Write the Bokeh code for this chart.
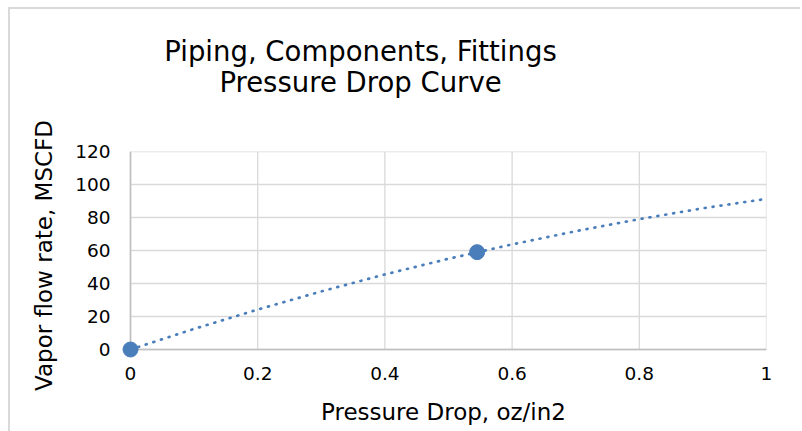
from bokeh.plotting import figure
from bokeh.models import Range1d, Label, FixedTicker
from bokeh.layouts import column
from bokeh.embed import file_html
from bokeh.resources import INLINE

# Measured points (pressure drop oz/in2 vs. vapor flow MSCFD)
pressure_drop = [0.0, 0.545]
vapor_flow = [0.0, 59.0]

# Trendline values
trend_x = [0.0, 0.1, 0.2, 0.3, 0.4, 0.5, 0.6, 0.7, 0.8, 0.9, 1.0]
trend_y = [0.0, 12.5, 24.2, 35.2, 45.5, 55.0, 63.7, 71.7, 79.0, 85.6, 91.3]

x_ticks = [0, 0.2, 0.4, 0.6, 0.8, 1.0]
y_ticks = [0, 20, 40, 60, 80, 100, 120]

title_lines = ["Piping, Components, Fittings", "Pressure Drop Curve"]
x_title = "Pressure Drop, oz/in2"
y_title = "Vapor flow rate, MSCFD"

FONT = "DejaVu Sans"
BLUE = "#4a7ebb"
GRID = "#d9d9d9"
AXIS = "#bfbfbf"

W = 790
TITLE_H = 110
PLOT_H = 312

# --- title strip -----------------------------------------------------------
head = figure(
    width=W, height=TITLE_H, title=None,
    x_range=Range1d(0, W), y_range=Range1d(0, TITLE_H),
    output_backend="svg", toolbar_location=None,
    min_border=0, x_axis_location=None, y_axis_location=None,
    background_fill_color="white", border_fill_color="white",
)
head.outline_line_color = None
head.grid.visible = False
for i, t in enumerate(title_lines):
    head.add_layout(Label(
        x=240, y=69 - i * 31, x_units="screen", y_units="screen",
        text=t, text_align="center", text_baseline="alphabetic",
        text_font=FONT, text_font_size="27.5px", text_color="black",
    ))

# --- chart -----------------------------------------------------------------
# small padding so markers at the origin are not cut by the frame edge
XPAD = 10 / 636
YPAD = 10 / 1.65

p = figure(
    width=W, height=PLOT_H, title=None,
    x_range=Range1d(-XPAD, 1.0), y_range=Range1d(-YPAD, 120),
    output_backend="svg", toolbar_location=None,
    min_border_left=110, min_border_right=34,
    min_border_top=32, min_border_bottom=72,
    background_fill_color="white", border_fill_color="white",
)
p.outline_line_color = None

# grid drawn only over the data area
p.xgrid.visible = False
p.ygrid.visible = False
p.segment(x0=x_ticks, y0=[0] * len(x_ticks), x1=x_ticks, y1=[120] * len(x_ticks),
          line_color=GRID, line_width=1.3)
p.segment(x0=[0] * len(y_ticks), y0=y_ticks, x1=[1] * len(y_ticks), y1=y_ticks,
          line_color=GRID, line_width=1.3)
# axis lines along x=0 and y=0
p.segment(x0=[0, 0], y0=[0, 0], x1=[1, 0], y1=[0, 120], line_color=AXIS, line_width=1.6)

for ax in (p.xaxis[0], p.yaxis[0]):
    ax.axis_line_color = None
    ax.major_tick_line_color = None
    ax.minor_tick_line_color = None
    ax.major_tick_out = 0
    ax.major_tick_in = 0
    ax.minor_tick_out = 0
    ax.major_label_text_font = FONT
    ax.major_label_text_font_size = "18.5px"
    ax.major_label_text_color = "black"
    ax.axis_label_text_font = FONT
    ax.axis_label_text_font_size = "23px"
    ax.axis_label_text_font_style = "normal"
    ax.axis_label_text_color = "black"

p.xaxis.ticker = FixedTicker(ticks=x_ticks)
p.yaxis.ticker = FixedTicker(ticks=y_ticks)
p.xaxis.major_label_overrides = {0: "0", 1: "1"}
p.xaxis.major_label_standoff = 7
p.yaxis.major_label_standoff = 10
p.xaxis.axis_label = x_title
p.yaxis.axis_label = y_title
p.xaxis.axis_label_standoff = 16
p.yaxis.axis_label_standoff = 15

# dotted trendline
p.line(trend_x, trend_y, line_color=BLUE, line_width=2.7, line_dash="1 7", line_cap="round")
# data points
p.scatter(pressure_drop, vapor_flow, size=15, fill_color=BLUE, line_color=BLUE)

page = column(head, p, spacing=0)
page.margin = (7, 0, 0, 8)
page.styles = {"border-left": f"2px solid {GRID}", "border-top": f"2px solid {GRID}"}

open("out.html", "w").write(file_html(page, INLINE))
